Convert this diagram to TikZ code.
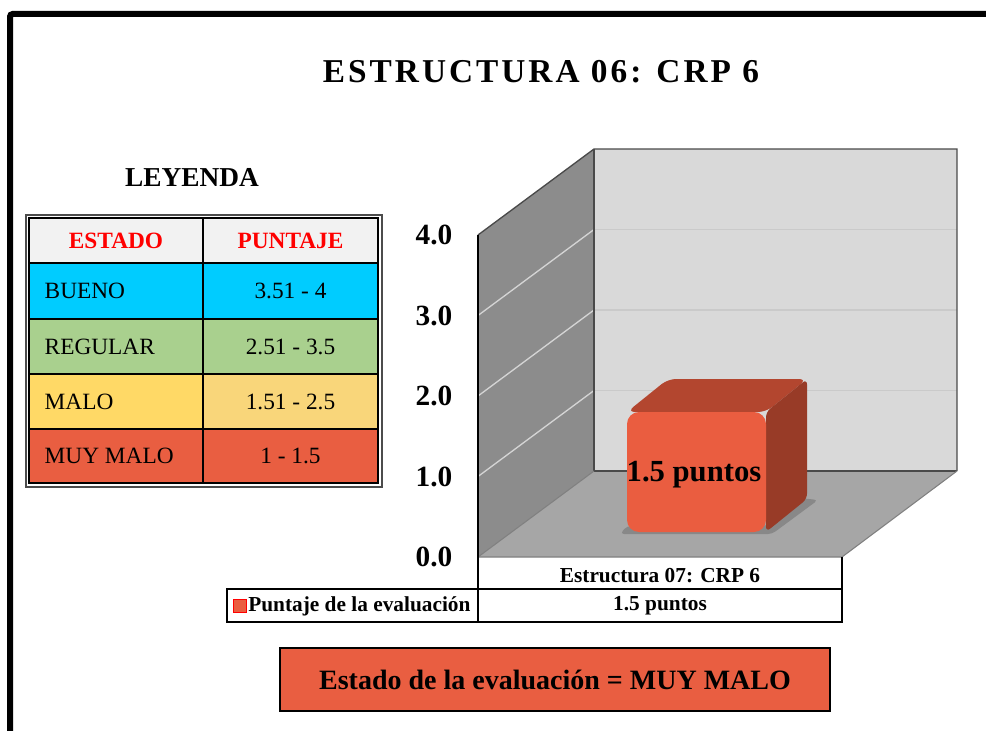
\documentclass[tikz,border=0pt]{standalone}
\usepackage{fontspec}
\setmainfont{Liberation Serif}
\usetikzlibrary{positioning}

\definecolor{hdrgray}{HTML}{F2F2F2}
\definecolor{bueno}{HTML}{00CCFF}
\definecolor{regular}{HTML}{A9D08E}
\definecolor{maloA}{HTML}{FFD966}
\definecolor{maloB}{HTML}{F9D67A}
\definecolor{muymalo}{HTML}{E95E41}
\definecolor{estadored}{HTML}{FF0000}
\definecolor{sidewall}{HTML}{8C8C8C}
\definecolor{backwall}{HTML}{D9D9D9}
\definecolor{floorgray}{HTML}{A6A6A6}
\definecolor{gridback}{HTML}{CACACA}
\definecolor{gridside}{HTML}{D4D4D4}
\definecolor{edgegray}{HTML}{4A4A4A}
\definecolor{barfront}{HTML}{EA5D40}
\definecolor{bartop}{HTML}{B3462F}
\definecolor{barside}{HTML}{983B27}

\begin{document}
\begin{tikzpicture}[x=0.75pt,y=-0.75pt,
  lbl/.style={font=\fontsize{17.5}{20}\selectfont},
  hdr/.style={font=\fontsize{17.5}{20}\selectfont\bfseries,text=estadored},
  axlbl/.style={font=\fontsize{22}{26}\selectfont\bfseries,anchor=east},
  tbl/.style={font=\fontsize{16}{19}\selectfont\bfseries}]

\useasboundingbox (0,0) rectangle (986,731);

% Frame
\draw[line width=4.5pt,rounded corners=2pt] (10,14) rectangle (1010,760);

% Title
\node[font=\fontsize{25}{30}\selectfont\bfseries\addfontfeatures{LetterSpace=9}] (title) at (541,72) {ESTRUCTURA 06: CRP 6};

% Legend
\node[font=\fontsize{20.5}{24}\selectfont\bfseries] (leyenda) at (192,178) {LEYENDA};

\fill[hdrgray] (29,218) rectangle (378,263);
\fill[bueno] (29,263) rectangle (378,319);
\fill[regular] (29,319) rectangle (378,374);
\fill[maloA] (29,374) rectangle (203,429);
\fill[maloB] (203,374) rectangle (378,429);
\fill[muymalo] (29,429) rectangle (378,483);
\draw[gray!60!black,line width=1.1pt] (26,215) rectangle (382,487);
\draw[line width=0.9pt] (29,218) rectangle (378,483);
\foreach \y in {263,319,374,429}
  \draw[line width=0.9pt] (29,\y) -- (378,\y);
\draw[line width=0.9pt] (203,218) -- (203,483);

\node[hdr] (estado) at (116,240.5) {ESTADO};
\node[hdr] (puntaje) at (290.5,240.5) {PUNTAJE};
\node[lbl,anchor=west] (bueno) at (40,291) {BUENO};
\node[lbl] (rbueno) at (290.5,291) {3.51 - 4};
\node[lbl,anchor=west] (regular) at (40,346.5) {REGULAR};
\node[lbl] (rregular) at (290.5,346.5) {2.51 - 3.5};
\node[lbl,anchor=west] (malo) at (40,401.5) {MALO};
\node[lbl] (rmalo) at (290.5,401.5) {1.51 - 2.5};
\node[lbl,anchor=west] (muymalo) at (40,456) {MUY MALO};
\node[lbl] (rmuymalo) at (290.5,456) {1 - 1.5};

% Chart walls and floor
\fill[sidewall] (478,557) -- (478,235) -- (594,149) -- (594,471) -- cycle;
\fill[backwall] (594,149) rectangle (957,471);
\fill[floorgray] (478,557) -- (594,471) -- (957,471) -- (842,557) -- cycle;

% Gridlines
\foreach \v in {1,2,3} {
  \draw[gridback,line width=1pt] (594,{471-80.5*\v}) -- (957,{471-80.5*\v});
  \draw[gridside,line width=1pt] (478,{557-80.5*\v}) -- (594,{471-80.5*\v});
}

% Edges
\draw[edgegray,line width=1pt] (478,235) -- (594,149) -- (957,149) -- (957,471);
\draw[edgegray,line width=0.8pt] (594,149) -- (594,471) -- (957,471);
\draw[gray,line width=0.8pt] (478,557) -- (594,471);
\draw[gray,line width=0.8pt] (957,471) -- (842,557) -- (478,557);
\draw[line width=1.2pt] (478,557) -- (478,235);

% Axis labels
\foreach \v/\t in {0/0.0,1/1.0,2/2.0,3/3.0,4/4.0}
  \node[axlbl] (tick\v) at (457,{557-80.5*\v}) {\t};

% Bar
\fill[black,opacity=0.18,rounded corners=3pt] (620,534) -- (772,534) -- (818,500) -- (800,498) -- (766,526) -- (627,526) -- cycle;
\fill[bartop,rounded corners=6pt] (627,412) -- (668,379) -- (807,379) -- (766,412) -- cycle;
\fill[barside,rounded corners=4pt] (766,412) -- (807,379) -- (807,499) -- (766,532) -- cycle;
\fill[barfront,rounded corners=9pt] (627,412) rectangle (766,532);
\node[font=\fontsize{23}{26}\selectfont\bfseries] (barlbl) at (694,475) {1.5 puntos};

% Data table
\draw[line width=1pt] (478,557) -- (478,589);
\draw[line width=1pt] (842,557) -- (842,589);
\draw[line width=1.4pt] (227,589) rectangle (842,622);
\draw[line width=1.4pt] (478,589) -- (478,622);
\node[tbl] (categoria) at (660,576) {Estructura 07: CRP 6};
\node[tbl] (valor) at (660,606) {1.5 puntos};
\node[fill=barfront,draw=red,line width=0.6pt,minimum size=10pt,inner sep=0pt] (swatch) at (240,606) {};
\node[tbl,anchor=west,inner sep=0pt] (serie) at (248,606) {Puntaje de la evaluación};

% Result box
\draw[fill=muymalo,line width=1.5pt] (280,648) rectangle (830,711);
\node[font=\fontsize{21}{25}\selectfont\bfseries] (resultado) at (555,679.5) {Estado de la evaluación = MUY MALO};

\end{tikzpicture}
\end{document}
